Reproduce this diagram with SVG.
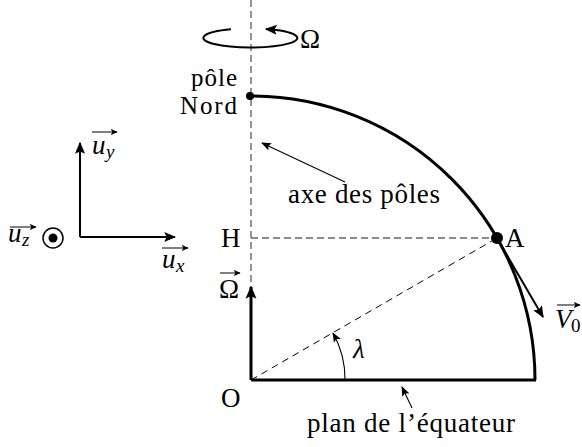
<svg xmlns="http://www.w3.org/2000/svg" width="582" height="447" viewBox="0 0 582 447">
<defs>
<style>
text{font-family:"Liberation Serif","DejaVu Serif",serif;font-size:27px;fill:#000}
.it{font-style:italic}
.sub{font-size:19px}
.pn{font-size:25px}
.dash{stroke:#666;stroke-width:1.4;stroke-dasharray:7 4;fill:none}
.dashk{stroke:#000;stroke-width:1;stroke-dasharray:7 5;fill:none}
.thick{stroke:#000;stroke-width:3;fill:none}
.med{stroke:#000;stroke-width:2;fill:none}
.thin{stroke:#000;stroke-width:1.1;fill:none}
.acc{stroke:#000;stroke-width:1;fill:none}
</style>
<marker id="big" viewBox="0 0 10 10" refX="9" refY="5" markerWidth="13" markerHeight="13" markerUnits="userSpaceOnUse" orient="auto"><path d="M0,0.8 L10,5 L0,9.2 L2,5 z" fill="#000"/></marker>
<marker id="mid" viewBox="0 0 10 10" refX="9" refY="5" markerWidth="12" markerHeight="12" markerUnits="userSpaceOnUse" orient="auto"><path d="M0,0.8 L10,5 L0,9.2 L2,5 z" fill="#000"/></marker>
<marker id="sm" viewBox="0 0 10 10" refX="9" refY="5" markerWidth="10" markerHeight="10" markerUnits="userSpaceOnUse" orient="auto"><path d="M0,1 L10,5 L0,9 L2,5 z" fill="#000"/></marker>
<marker id="acc" viewBox="0 0 10 10" refX="9" refY="5" markerWidth="7" markerHeight="7" markerUnits="userSpaceOnUse" orient="auto"><path d="M0,0.5 L10,5 L0,9.5 L2.5,5 z" fill="#000"/></marker>
</defs>
<rect width="582" height="447" fill="#fff"/>

<g id="connectors">
<line class="dash" x1="251" y1="0" x2="251" y2="380"/>
<line class="dash" x1="251" y1="238" x2="497" y2="238"/>
<line class="dashk" x1="251" y1="380" x2="497" y2="238"/>
<line class="thick" x1="251" y1="380" x2="536" y2="380" stroke-width="2.6"/>
<path class="thick" d="M251 96 A284 284 0 0 1 535 380"/>
<line class="thick" x1="251" y1="380" x2="251" y2="287" marker-end="url(#big)"/>
<line class="med" x1="497" y1="238" x2="543" y2="317" marker-end="url(#mid)"/>
<path class="med" d="M231 29.3 A47 9.5 0 1 0 266 29" marker-end="url(#mid)"/>
<line class="thin" x1="345" y1="182" x2="262" y2="143" marker-end="url(#sm)"/>
<line class="thin" x1="412" y1="408" x2="402" y2="387" marker-end="url(#sm)"/>
<path class="thin" d="M345 380 A94 94 0 0 0 333 333" marker-end="url(#sm)"/>
<line class="med" x1="80" y1="237" x2="80" y2="143" marker-end="url(#mid)"/>
<line class="med" x1="80" y1="237" x2="175" y2="237" marker-end="url(#mid)"/>
</g>

<g id="pole">
<circle cx="250" cy="96" r="4" fill="#000"/>
<text x="237" y="86" text-anchor="end" class="pn" textLength="46" lengthAdjust="spacing">pôle</text>
<text x="237" y="114" text-anchor="end" class="pn" textLength="57" lengthAdjust="spacing">Nord</text>
</g>
<g id="pointA">
<circle cx="497" cy="238" r="6" fill="#000"/>
<text x="505" y="247">A</text>
</g>
<g id="H"><text x="221" y="247">H</text></g>
<g id="O"><text x="221" y="407">O</text></g>
<g id="rotation"><text x="300" y="48">Ω</text></g>
<g id="omega-vec">
<text x="219" y="298">Ω</text>
<line class="acc" x1="220" y1="273" x2="240" y2="273" marker-end="url(#acc)"/>
</g>
<g id="V0">
<text x="555" y="328" class="it">V</text>
<text x="571" y="332" class="sub">0</text>
<line class="acc" x1="557" y1="305" x2="580" y2="305" marker-end="url(#acc)"/>
</g>
<g id="lambda"><text x="353" y="358" class="it">λ</text></g>
<g id="axe-label"><text x="288" y="203" textLength="152" lengthAdjust="spacing">axe des pôles</text></g>
<g id="equateur-label"><text x="307" y="432" textLength="208" lengthAdjust="spacing">plan de l’équateur</text></g>

<g id="uy">
<text x="92" y="154" class="it">u</text>
<text x="106" y="158" class="it sub">y</text>
<line class="acc" x1="92" y1="132" x2="117" y2="132" marker-end="url(#acc)"/>
</g>
<g id="ux">
<text x="162" y="268" class="it">u</text>
<text x="176" y="272" class="it sub">x</text>
<line class="acc" x1="162" y1="248" x2="188" y2="248" marker-end="url(#acc)"/>
</g>
<g id="uz">
<text x="8" y="242" class="it">u</text>
<text x="22" y="246" class="it sub">z</text>
<line class="acc" x1="10" y1="227" x2="36" y2="227" marker-end="url(#acc)"/>
<circle cx="53" cy="238" r="10" fill="none" stroke="#000" stroke-width="1.5"/>
<circle cx="53" cy="238" r="4.5" fill="#000"/>
</g>
</svg>
